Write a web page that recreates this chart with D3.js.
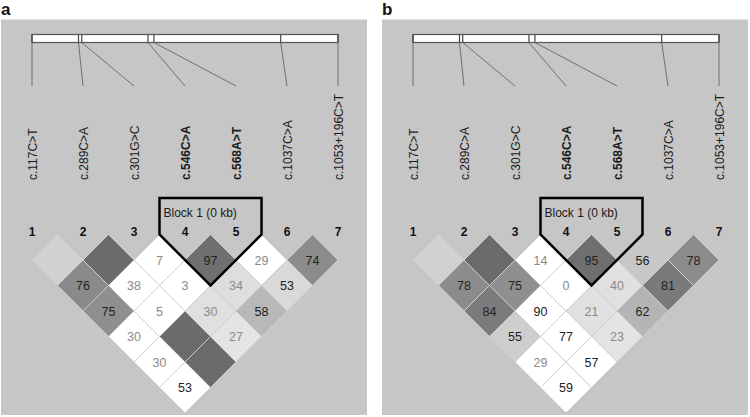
<!DOCTYPE html>
<html><head><meta charset="utf-8">
<script src="https://cdnjs.cloudflare.com/ajax/libs/d3/7.8.5/d3.min.js"></script>
<style>body{margin:0;background:#fff}svg{display:block}</style>
</head><body>
<svg id="chart" width="750" height="417"></svg>
<script>
// ---- data ----
const panels = ["a", "b"];
const markerNames = ["c.117C>T","c.289C>A","c.301G>C","c.546C>A","c.568A>T","c.1037C>A","c.1053+196C>T"];
const markerNumbers = [1,2,3,4,5,6,7];
const markerPositions = [117,289,301,546,568,1037,1249]; // cDNA coordinate (intronic SNP: 1053+196)
const blockMarkers = [4,5];
const blockLabel = "Block 1 (0 kb)";
// D' x100 by marker distance (row 1 = adjacent pairs); null = D' of 1 (no number shown)
const dprimeA = [
  [null,null,7,97,29,74],
  [76,38,3,34,53],
  [75,5,30,58],
  [30,null,27],
  [30,null],
  [53]
];
// LD shading strength 0 (white) .. 1 (strong LD)
const shadeA = [
  [0.31,1,0,0.97,0,0.78],
  [0.79,0,0,0.22,0.26],
  [0.76,0,0.21,0.48],
  [0,1,0.18],
  [0,1],
  [0]
];
const dprimeB = [
  [null,null,14,95,56,78],
  [78,75,0,40,81],
  [84,90,21,62],
  [55,77,23],
  [29,57],
  [59]
];
const shadeB = [
  [0.31,1,0,0.97,0.38,0.78],
  [0.78,0.76,0,0.21,0.90],
  [0.89,0,0.20,0.51],
  [0.33,0,0.18],
  [0,0],
  [0]
];
const panelData = [{dp: dprimeA, sh: shadeA}, {dp: dprimeB, sh: shadeB}];

// ---- drawing ----
const svg = d3.select("#chart");
const FONT = "'Liberation Sans', Arial, Helvetica, sans-serif";
const panelOffsets = [0, 381];
const xM = d3.scaleLinear().domain([1, 7]).range([32, 338]);
const xG = d3.scaleLinear().domain([d3.min(markerPositions), d3.max(markerPositions)]).range([32, 338]);
const half = (xM(2) - xM(1)) / 2;
const row1Y = 260;
const yRow = d => row1Y + (d - 1) * half;
const fill = d3.scaleLinear().domain([0, 1]).range(["#ffffff", "#6b6b6b"]);

panels.forEach((name, p) => {
  const off = panelOffsets[p];
  svg.append("text").attr("x", off + 1).attr("y", 15)
    .attr("font-family", FONT).attr("font-weight", "bold").attr("font-size", 17)
    .attr("fill", "#111").text(name);

  const g = svg.append("g").attr("transform", `translate(${off},0)`);
  g.append("rect").attr("x", 1).attr("y", 19.5).attr("width", 366).attr("height", 395.5).attr("fill", "#c6c6c6");

  // gene bar
  g.append("rect").attr("x", xG(117)).attr("y", 34.5).attr("width", xG(1249) - xG(117)).attr("height", 8)
    .attr("fill", "#fff").attr("stroke", "#555").attr("stroke-width", 1.2);
  g.selectAll(".tick").data(markerPositions).enter().append("line")
    .attr("x1", d => xG(d)).attr("x2", d => xG(d)).attr("y1", 34.5).attr("y2", 42.5)
    .attr("stroke", "#444").attr("stroke-width", 1.2);
  g.selectAll(".conn").data(markerPositions).enter().append("line")
    .attr("x1", d => xG(d)).attr("y1", 42.5)
    .attr("x2", (d, i) => xM(markerNumbers[i])).attr("y2", 86)
    .attr("stroke", "#707070").attr("stroke-width", 1);

  // marker names
  g.selectAll(".mname").data(markerNames).enter().append("text")
    .attr("transform", (d, i) => `translate(${xM(markerNumbers[i]) + 4.5},180) rotate(-90)`)
    .attr("font-family", FONT).attr("font-size", 12)
    .attr("font-weight", (d, i) => blockMarkers.includes(markerNumbers[i]) ? "bold" : "normal")
    .attr("fill", "#1a1a1a").text(d => d);

  // marker numbers
  g.selectAll(".mnum").data(markerNumbers).enter().append("text")
    .attr("x", d => xM(d)).attr("y", 236).attr("text-anchor", "middle")
    .attr("font-family", FONT).attr("font-size", 12).attr("font-weight", "bold")
    .attr("fill", "#111").text(d => d);

  // cells
  const cells = [];
  panelData[p].dp.forEach((row, r) => row.forEach((v, k) => {
    const i = k + 1, j = k + 2 + r;
    cells.push({i, j, d: r + 1, v, s: panelData[p].sh[r][k]});
  }));
  const cg = g.selectAll(".cell").data(cells).enter().append("g")
    .attr("transform", c => `translate(${(xM(c.i) + xM(c.j)) / 2},${yRow(c.d)})`);
  cg.append("path")
    .attr("d", `M0,${-half}L${half},0L0,${half}L${-half},0Z`)
    .attr("fill", c => fill(c.s)).attr("stroke", "#cdcdcd").attr("stroke-width", 1);
  cg.filter(c => c.v !== null).append("text")
    .attr("text-anchor", "middle").attr("y", 4.5)
    .attr("font-family", FONT).attr("font-size", 12.5)
    .attr("fill", c => c.v < 50 ? "#8a8a8a" : "#222")
    .text(c => c.v);

  // block outline
  const bl = xM(blockMarkers[0]) - half, br = xM(blockMarkers[1]) + half;
  const tipX = (xM(blockMarkers[0]) + xM(blockMarkers[1])) / 2;
  const dd = blockMarkers[1] - blockMarkers[0];
  const tipY = yRow(dd) + half;
  const sideY = tipY - (tipX - bl);
  g.append("path")
    .attr("d", `M${bl},${sideY}L${bl},198L${br},198L${br},${sideY}L${tipX},${tipY}Z`)
    .attr("fill", "none").attr("stroke", "#000").attr("stroke-width", 2.5).attr("stroke-linejoin", "miter");
  g.append("text").attr("x", bl + 4).attr("y", 217)
    .attr("font-family", FONT).attr("font-size", 12).attr("fill", "#1a1a1a").text(blockLabel);
});
</script>
</body></html>
